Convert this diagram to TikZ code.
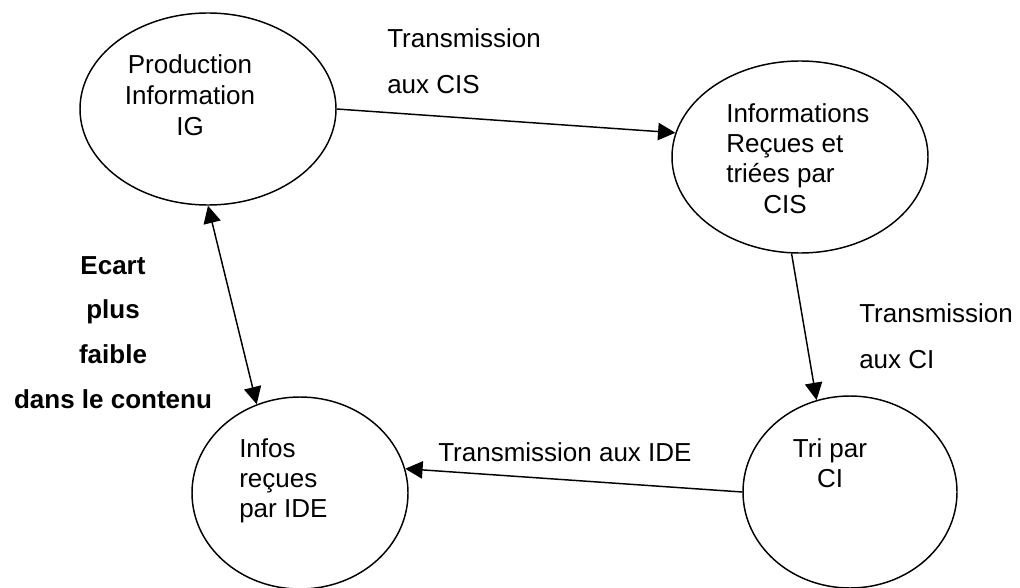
\documentclass[tikz,border=0pt]{standalone}
\usepackage{fontspec}
\setmainfont{Liberation Sans}
\usetikzlibrary{shapes.geometric,arrows.meta}
\begin{document}
\begin{tikzpicture}[x=0.75pt,y=-0.75pt,
  bubble/.style={draw, ellipse, line width=1.1pt, inner sep=0pt, minimum height=144pt},
  lbl/.style={inner sep=0pt, font=\fontsize{19.5}{22.8}\selectfont},
  tip/.style={Triangle[length=13pt,width=13pt]},
  link/.style={line width=1.1pt, -{Triangle[length=13pt,width=13pt]}},
  twoway/.style={line width=1.1pt, {Triangle[length=13pt,width=13pt]}-{Triangle[length=13pt,width=13pt]}},
]
\useasboundingbox (0,0) rectangle (1020,588);

% ellipses
\node[bubble, minimum width=192pt] (e1) at (208,109) {};
\node[bubble, minimum width=192pt] (e2) at (800,157) {};
\node[bubble, minimum width=160.5pt] (e3) at (850,492) {};
\node[bubble, minimum width=162pt] (e4) at (300,493) {};

% texts inside ellipses
\node[lbl, align=center, anchor=north, font=\fontsize{19.5}{23.25}\selectfont] (t1) at (190,54) {Production\\Information\\IG};
\node[lbl, align=left, anchor=north west] (t2) at (726,103) {Informations\\Reçues et\\triées par\\\hspace*{27.75pt}CIS};
\node[lbl, align=center, anchor=north] (t3) at (830,438) {Tri par\\CI};
\node[lbl, align=left, anchor=north west] (t4) at (239,438) {Infos\\reçues\\par IDE};

% connector labels
\node[lbl, align=left, anchor=north west, font=\fontsize{19.5}{34.5}\selectfont] (l1) at (387,28) {Transmission\\aux CIS};
\node[lbl, align=left, anchor=north west, font=\fontsize{19.5}{34.5}\selectfont] (l2) at (859,303) {Transmission\\aux CI};
\node[lbl, anchor=north west] (l3) at (438,442) {Transmission aux IDE};
\node[lbl, align=center, anchor=north, font=\fontsize{19.5}{33.5}\selectfont\bfseries] (l4) at (113,256) {Ecart\\plus\\faible\\dans le contenu};

% connectors
\draw[link] (e1.east) -- (e2.169);
\draw[link] (e2.265) -- (e3.110);
\draw[link] (e3.west) -- (e4.13);
\draw[twoway] (e4.116) -- (e1.south);
\end{tikzpicture}
\end{document}
